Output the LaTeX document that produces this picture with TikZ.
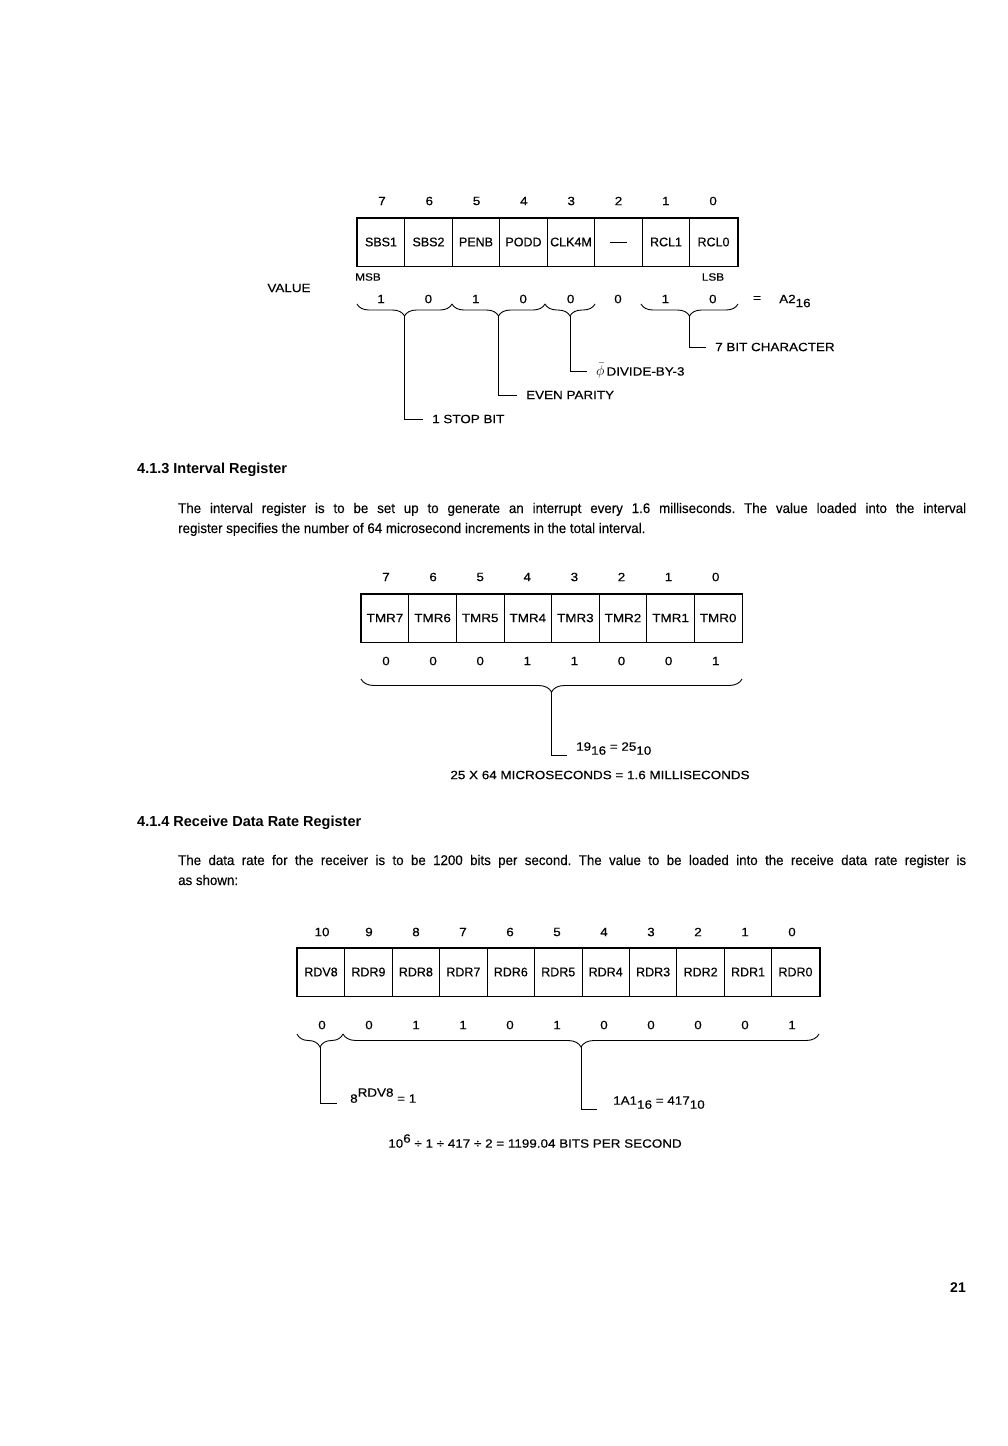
\documentclass[tikz,border=0pt]{standalone}
\usepackage{fontspec}
\setmainfont{Liberation Sans}
\newfontfamily\bodyfont[FakeStretch=0.95,FakeBold=0.2]{Liberation Sans}
\newfontfamily\lblfont[FakeStretch=1.12,FakeBold=0.4]{Liberation Sans}
\newfontfamily\cellfont[FakeBold=0.4]{Liberation Sans}
\usetikzlibrary{decorations.pathreplacing,positioning}
\frenchspacing

\begin{document}
\begin{tikzpicture}[x=1pt,y=-1pt,
  cell/.style={draw,line width=0.9pt,minimum width=47.5pt,minimum height=48pt,inner sep=0pt,font=\cellfont\fontsize{12.5}{14}\selectfont},
  widecell/.style={cell,font=\lblfont\fontsize{12}{14}\selectfont},
  lbl/.style={inner sep=0pt,font=\lblfont\fontsize{12}{14}\selectfont},
  note/.style={lbl,anchor=west,inner xsep=9pt},
  lownote/.style={lbl,anchor=south west,inner xsep=9pt,inner ysep=0pt},
  brc/.style={decorate,decoration={brace,mirror,amplitude=12pt},line width=0.9pt},
  lead/.style={line width=0.9pt},
  frame/.style={line width=1.7pt},
  head/.style={anchor=base west,inner sep=0pt,font=\bfseries\fontsize{14.5}{16}\selectfont},
  body/.style={anchor=base west,inner sep=0pt,font=\bodyfont\fontsize{14}{16}\selectfont}]
\fill[white](0,0)rectangle(1008,1446);

\foreach \t [count=\i from 0] in {SBS1,SBS2,PENB,PODD,CLK4M,\rule{17pt}{1pt},RCL1,RCL0}{
  \pgfmathtruncatemacro\b{7-\i}
  \node[cell](ctl\b)at(381+47.5*\i,242){\t};
  \node[lbl](ctlbit\b)at(382+47.3*\i,201){\b};
}
\foreach \v [count=\i from 0] in {1,0,1,0,0,0,1,0}{
  \pgfmathtruncatemacro\b{7-\i}
  \node[lbl](ctlval\b)at(381+47.4*\i,299){\v};
}
\draw[frame](ctl7.north west)rectangle(ctl0.south east);
\node[lbl,font=\lblfont\fontsize{10.5}{12}\selectfont](msb)at(368,277){MSB};
\node[lbl,font=\lblfont\fontsize{10.5}{12}\selectfont](lsb)at(713,277){LSB};
\node[lbl](value)at(289,288){VALUE};
\node[lbl](eq)at(757,299){=};
\node[lbl,anchor=west](hexa)at(779,301){A2\raisebox{-4pt}{16}};
\draw[brc](357,304)--(452,304);
\draw[brc](452,304)--(545,304);
\draw[brc](545,304)--(595,304);
\draw[brc](641,304)--(738,304);
\coordinate(stoptip)at(404.5,316);
\coordinate(partip)at(498.5,316);
\coordinate(divtip)at(570,316);
\coordinate(chrtip)at(689.5,316);
\node[note](stop)at(423,419){1 STOP BIT};
\node[note](parity)at(517,395){EVEN PARITY};
\node[note](div)at(587,371){\fontsize{14}{14}\selectfont$\bar{\phi}$\kern2pt\lblfont\fontsize{12}{14}\selectfont DIVIDE-BY-3};
\node[note](chr)at(706,347){7 BIT CHARACTER};
\draw[lead](stoptip)|-(stop.west);
\draw[lead](partip)|-(parity.west);
\draw[lead](divtip)|-(div.west);
\draw[lead](chrtip)|-(chr.west);

\node[head](h413)at(137,473){4.1.3 Interval Register};
\node[body](p413a)at(178,513){\makebox[788pt][s]{The interval register is to be set up to generate an interrupt every 1.6 milliseconds. The value loaded into the interval}};
\node[body](p413b)at(178,533){register specifies the number of 64 microsecond increments in the total interval.};

\foreach \i in {0,...,7}{
  \pgfmathtruncatemacro\b{7-\i}
  \node[widecell](tmr\b)at(385+47.6*\i,618){TMR\b};
  \node[lbl](tmrbit\b)at(386+47.1*\i,577){\b};
}
\foreach \v [count=\i from 0] in {0,0,0,1,1,0,0,1}{
  \pgfmathtruncatemacro\b{7-\i}
  \node[lbl](tmrval\b)at(386+47.1*\i,661){\v};
}
\draw[frame](tmr7.north west)rectangle(tmr0.south east);
\draw[brc,decoration={amplitude=13pt}](361,679)--(742,679);
\coordinate(tmrtip)at(551.5,692);
\node[lownote](tmrhex)at(567,755){19\raisebox{-4pt}{16} = 25\raisebox{-4pt}{10}};
\draw[lead](tmrtip)|-(tmrhex.south west);
\node[lbl](tmrsum)at(600,775){25 X 64 MICROSECONDS = 1.6 MILLISECONDS};

\node[head](h414)at(137,826){4.1.4 Receive Data Rate Register};
\node[body](p414a)at(178,865){\makebox[788pt][s]{The data rate for the receiver is to be 1200 bits per second. The value to be loaded into the receive data rate register is}};
\node[body](p414b)at(178,885){as shown:};

\foreach \t [count=\i from 0] in {RDV8,RDR9,RDR8,RDR7,RDR6,RDR5,RDR4,RDR3,RDR2,RDR1,RDR0}{
  \pgfmathtruncatemacro\b{10-\i}
  \node[cell](rdr\b)at(321+47.45*\i,972){\t};
  \node[lbl](rdrbit\b)at(322+47*\i,932){\b};
}
\foreach \v [count=\i from 0] in {0,0,1,1,0,1,0,0,0,0,1}{
  \pgfmathtruncatemacro\b{10-\i}
  \node[lbl](rdrval\b)at(322+47*\i,1025){\v};
}
\draw[frame](rdr10.north west)rectangle(rdr0.south east);
\draw[brc,decoration={amplitude=13pt}](297,1034)--(343,1034);
\draw[brc,decoration={amplitude=13pt}](343,1034)--(819,1034);
\coordinate(rdvtip)at(320,1047);
\coordinate(rdrtip)at(581,1047);
\node[lownote,inner xsep=13pt](rdvval)at(337,1103){8\raisebox{6pt}{RDV8} = 1};
\node[lownote,inner xsep=16pt](rdrhex)at(597,1109){1A1\raisebox{-4pt}{16} = 417\raisebox{-4pt}{10}};
\draw[lead](rdvtip)|-(rdvval.south west);
\draw[lead](rdrtip)|-(rdrhex.south west);
\node[lbl](rate)at(535,1141){10\raisebox{5pt}{6} ÷ 1 ÷ 417 ÷ 2 = 1199.04 BITS PER SECOND};

\node[lbl,font=\bfseries\fontsize{14}{16}\selectfont](page)at(958,1288){21};
\end{tikzpicture}
\end{document}
